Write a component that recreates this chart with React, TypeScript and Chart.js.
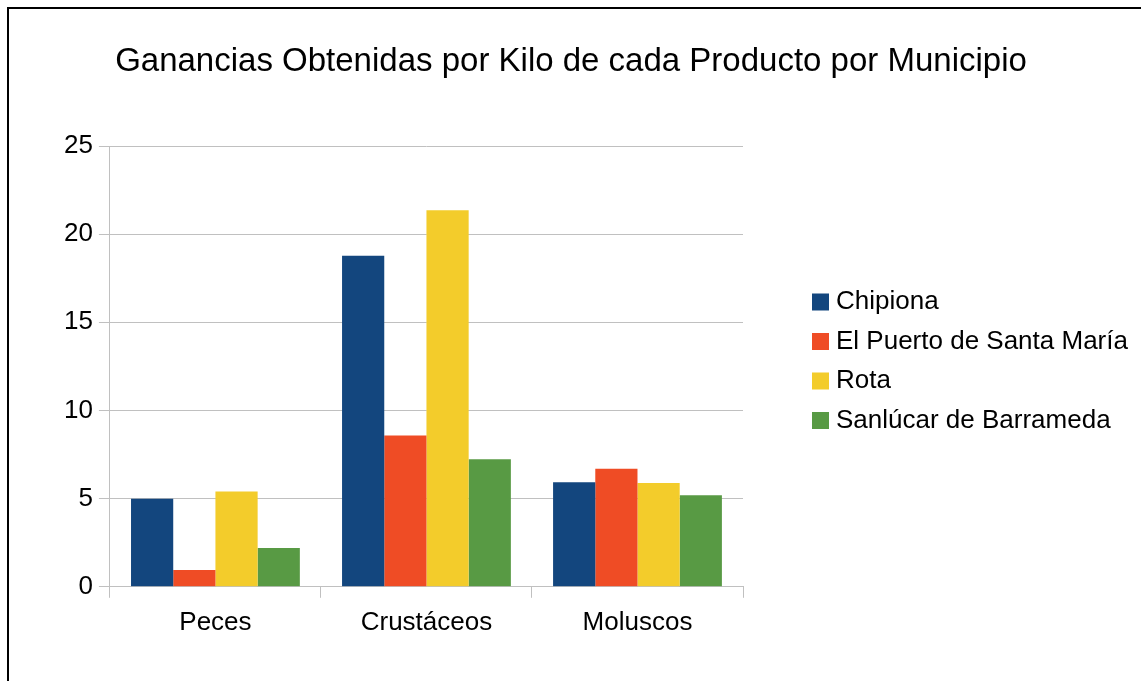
import { useEffect, useRef } from "react";
import { Chart, registerables } from "chart.js";

Chart.register(...registerables);

const TITLE = "Ganancias Obtenidas por Kilo de cada Producto por Municipio";
const categories = ["Peces", "Crustáceos", "Moluscos"];
const seriesNames = ["Chipiona", "El Puerto de Santa María", "Rota", "Sanlúcar de Barrameda"];
const chipiona = [5.0, 18.77, 5.93];
const elPuerto = [0.95, 8.58, 6.69];
const rota = [5.4, 21.36, 5.89];
const sanlucar = [2.2, 7.23, 5.19];
const yTicks = [0, 5, 10, 15, 20, 25];
const colors = ["#13467e", "#ef4c25", "#f3cc2b", "#589a44"];

const FONT = '"Liberation Sans", Arial, sans-serif';
const GRID = "#c0c0c0";

const framePlugin = {
  id: "frame",
  beforeDraw(chart: any) {
    const ctx = chart.ctx;
    ctx.save();
    ctx.fillStyle = "#ffffff";
    ctx.fillRect(0, 0, chart.width, chart.height);
    ctx.restore();
  },
  afterDraw(chart: any) {
    const ctx = chart.ctx;
    ctx.save();
    ctx.strokeStyle = "#000";
    ctx.lineWidth = 2;
    ctx.beginPath();
    ctx.moveTo(8, chart.height);
    ctx.lineTo(8, 8);
    ctx.lineTo(chart.width, 8);
    ctx.stroke();

    ctx.fillStyle = "#000";
    ctx.font = `33px ${FONT}`;
    ctx.textAlign = "center";
    ctx.textBaseline = "middle";
    ctx.fillText(TITLE, 571, 62);

    ctx.font = `26px ${FONT}`;
    ctx.textAlign = "left";
    chart.data.datasets.forEach((ds: any, i: number) => {
      const y = 302 + i * 39.5;
      ctx.fillStyle = ds.backgroundColor;
      ctx.fillRect(812, y - 8.5, 17, 17);
      ctx.fillStyle = "#000";
      ctx.fillText(ds.label, 836, y);
    });
    ctx.restore();
  },
};

export default function App() {
  const ref = useRef<HTMLCanvasElement | null>(null);

  useEffect(() => {
    if (!ref.current) return;
    const values = [chipiona, elPuerto, rota, sanlucar];
    const chart = new Chart(ref.current, {
      type: "bar",
      data: {
        labels: categories,
        datasets: seriesNames.map((name, i) => ({
          label: name,
          data: values[i],
          backgroundColor: colors[i],
          borderWidth: 0,
          categoryPercentage: 0.8,
          barPercentage: 1.0,
        })),
      },
      options: {
        responsive: false,
        animation: false,
        layout: { padding: { left: 58, right: 398, top: 146, bottom: 34 } },
        plugins: {
          legend: { display: false },
          title: { display: false },
          tooltip: { enabled: false },
        },
        scales: {
          x: {
            offset: true,
            grid: {
              offset: true,
              display: true,
              drawOnChartArea: true,
              color: (c: any) => (c.index === 0 || c.index === categories.length ? GRID : "rgba(0,0,0,0)"),
              tickColor: GRID,
              tickLength: 11,
            },
            border: { display: true, color: GRID },
            ticks: { color: "#000", font: { family: FONT, size: 26 }, padding: 9 },
          },
          y: {
            min: 0,
            max: 25,
            afterBuildTicks: (scale: any) => {
              scale.ticks = yTicks.map((v) => ({ value: v }));
            },
            grid: { color: GRID, tickColor: GRID, tickLength: 11 },
            border: { display: true, color: GRID },
            ticks: { color: "#000", font: { family: FONT, size: 26 }, padding: 6 },
          },
        },
      },
      plugins: [framePlugin],
    });
    return () => chart.destroy();
  }, []);

  return (
    <div style={{ position: "fixed", left: 0, top: 0, width: 1141, height: 681, background: "#fff" }}>
      <canvas ref={ref} width={1141} height={681} style={{ display: "block" }} />
    </div>
  );
}
